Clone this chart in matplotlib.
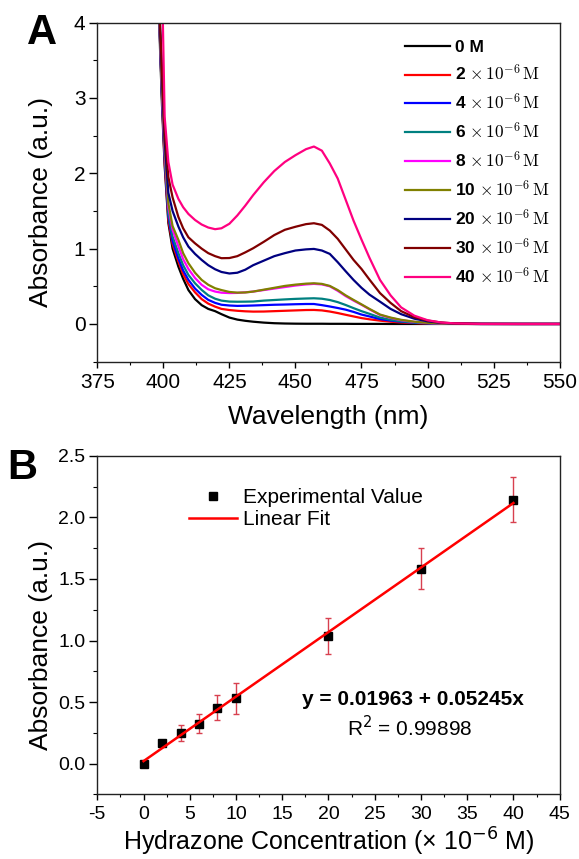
import numpy as np
import matplotlib
matplotlib.use("Agg")
import matplotlib.pyplot as plt
from matplotlib.ticker import MultipleLocator, FormatStrFormatter
from matplotlib.font_manager import FontProperties

plt.rcParams['font.family'] = ['Liberation Sans', 'DejaVu Sans']
plt.rcParams['axes.unicode_minus'] = False

# ---- panel A: absorption spectra ----
wl = [398.0, 398.8, 399.5, 400.5, 401.9, 403.5, 405.7, 407.5, 409.5, 412, 414.5, 417, 419.6, 422,
      425, 428, 431, 434, 438, 442, 446, 450, 454, 457, 460, 463, 466, 469, 472, 475, 478, 482,
      486, 490, 495, 500, 505, 510, 520, 535, 550]

abs_0 = [4.6, 3.6, 2.9, 2.1, 1.34, 1.0, 0.76, 0.6, 0.45, 0.33, 0.25, 0.2, 0.17, 0.13,
         0.085, 0.058, 0.042, 0.03, 0.018, 0.01, 0.006, 0.004, 0.003, 0.003, 0.003, 0.002, 0.002, 0.002, 0.001, 0.001, 0.001, 0.001,
         0.0, 0.0, 0.0, 0.0, 0.0, 0.0, 0.0, 0.0, 0.0]
abs_2 = [4.6, 3.7, 3.0, 2.15, 1.38, 1.06, 0.83, 0.66, 0.53, 0.42, 0.33, 0.27, 0.23, 0.2,
         0.185, 0.175, 0.168, 0.164, 0.165, 0.17, 0.175, 0.18, 0.185, 0.186, 0.18, 0.165, 0.145, 0.122, 0.1, 0.078, 0.062, 0.044,
         0.03, 0.02, 0.012, 0.006, 0.003, 0.001, 0.0, 0.0, 0.0]
abs_4 = [4.6, 3.7, 3.0, 2.2, 1.43, 1.1, 0.87, 0.71, 0.585, 0.47, 0.386, 0.32, 0.28, 0.255,
         0.245, 0.24, 0.242, 0.245, 0.25, 0.255, 0.258, 0.262, 0.265, 0.265, 0.25, 0.232, 0.212, 0.19, 0.16, 0.125, 0.1, 0.065,
         0.045, 0.03, 0.017, 0.009, 0.004, 0.002, 0.0, 0.0, 0.0]
abs_6 = [4.6, 3.75, 3.05, 2.25, 1.47, 1.16, 0.94, 0.78, 0.651, 0.54, 0.452, 0.38, 0.335, 0.31,
         0.297, 0.295, 0.296, 0.298, 0.31, 0.318, 0.326, 0.333, 0.338, 0.341, 0.335, 0.318, 0.29, 0.252, 0.21, 0.17, 0.135, 0.085,
         0.055, 0.035, 0.02, 0.01, 0.005, 0.002, 0.0, 0.0, 0.0]
abs_8 = [4.6, 3.8, 3.1, 2.3, 1.55, 1.25, 1.03, 0.86, 0.73, 0.61, 0.52, 0.46, 0.43, 0.415,
         0.41, 0.412, 0.42, 0.43, 0.45, 0.47, 0.49, 0.51, 0.525, 0.532, 0.525, 0.5, 0.44, 0.37, 0.31, 0.255, 0.195, 0.12,
         0.08, 0.05, 0.028, 0.014, 0.006, 0.003, 0.0, 0.0, 0.0]
abs_10 = [4.6, 3.8, 3.15, 2.35, 1.6, 1.3, 1.116, 0.94, 0.806, 0.68, 0.585, 0.52, 0.474, 0.45,
          0.425, 0.416, 0.418, 0.43, 0.455, 0.48, 0.505, 0.522, 0.535, 0.54, 0.532, 0.505, 0.45, 0.38, 0.319, 0.26, 0.2, 0.125,
          0.085, 0.055, 0.03, 0.015, 0.007, 0.003, 0.0, 0.0, 0.0]
abs_20 = [4.6, 3.9, 3.3, 2.45, 1.74, 1.5, 1.293, 1.15, 1.027, 0.93, 0.85, 0.78, 0.726, 0.69,
          0.67, 0.68, 0.72, 0.78, 0.84, 0.9, 0.94, 0.975, 0.99, 0.996, 0.975, 0.93, 0.82, 0.7, 0.584, 0.48, 0.39, 0.296,
          0.2, 0.13, 0.07, 0.035, 0.015, 0.006, 0.001, 0.0, 0.0]
abs_30 = [4.6, 3.95, 3.35, 2.55, 1.95, 1.68, 1.42, 1.27, 1.15, 1.07, 1.0, 0.94, 0.9, 0.873,
          0.875, 0.9, 0.95, 1.005, 1.09, 1.18, 1.25, 1.29, 1.325, 1.337, 1.315, 1.24, 1.13, 0.99, 0.85, 0.73, 0.59, 0.41,
          0.28, 0.17, 0.09, 0.045, 0.02, 0.008, 0.001, 0.0, 0.0]
abs_40 = [4.6, 4.6, 4.6, 2.75, 2.15, 1.85, 1.66, 1.55, 1.46, 1.38, 1.32, 1.28, 1.258, 1.27,
          1.33, 1.44, 1.57, 1.71, 1.88, 2.03, 2.15, 2.24, 2.32, 2.355, 2.3, 2.13, 1.93, 1.65, 1.37, 1.12, 0.88, 0.585,
          0.38, 0.22, 0.11, 0.05, 0.02, 0.008, 0.001, 0.0, 0.0]

spectra = [abs_0, abs_2, abs_4, abs_6, abs_8, abs_10, abs_20, abs_30, abs_40]
conc_labels = ['0 M', '2', '4', '6', '8', '10', '20', '30', '40']
colors = ['#000000', '#ff0000', '#0000ff', '#008080', '#ff00ff', '#808000', '#000080', '#800000', '#ff0080']

# ---- panel B: calibration ----
conc = [0, 2, 4, 6, 8, 10, 20, 30, 40]
absb = [0.0, 0.165, 0.248, 0.325, 0.455, 0.531, 1.037, 1.585, 2.146]
err = [0.02, 0.02, 0.065, 0.08, 0.105, 0.125, 0.15, 0.17, 0.185]
intercept = 0.01963
slope = 0.05245

fig = plt.figure(figsize=(5.79, 8.59), dpi=100)
axA = fig.add_axes([0.168, 0.579, 0.7986, 0.3947])
axB = fig.add_axes([0.168, 0.0753, 0.7986, 0.3939])

for vals, lab, c in zip(spectra, conc_labels, colors):
    if lab != '0 M':
        lab = lab + r' $\times\,10^{-6}\,\mathrm{M}$'
    axA.plot(wl, vals, color=c, lw=1.6, label=lab)

axA.set_xlim(375, 550)
axA.set_ylim(-0.5, 4)
axA.xaxis.set_major_locator(MultipleLocator(25))
axA.xaxis.set_minor_locator(MultipleLocator(12.5))
axA.yaxis.set_major_locator(MultipleLocator(1))
axA.yaxis.set_minor_locator(MultipleLocator(0.5))
axA.set_xlabel('Wavelength (nm)', fontsize=19, labelpad=9)
axA.set_ylabel('Absorbance (a.u.)', fontsize=19, va='center')
axA.yaxis.set_label_coords(-0.122, 0.47)

legprop = FontProperties(family='Liberation Sans', weight='bold', size=12.5, math_fontfamily='cm')
axA.legend(loc='upper left', bbox_to_anchor=(0.665, 0.95), frameon=False, prop=legprop,
           handlelength=2.6, handletextpad=0.3, labelspacing=0.5, borderpad=0, borderaxespad=0)

axB.errorbar(conc, absb, yerr=err, fmt='none', ecolor='#d8404f', elinewidth=1, capsize=2.5, capthick=1)
axB.plot(conc, absb, 's', color='black', markersize=6, label='Experimental Value')
fitx = np.array([0, 40])
axB.plot(fitx, intercept + slope * fitx, color='#ff0000', lw=1.8, label='Linear Fit')

axB.set_xlim(-5, 45)
axB.set_ylim(-0.25, 2.5)
axB.xaxis.set_major_locator(MultipleLocator(5))
axB.xaxis.set_minor_locator(MultipleLocator(2.5))
axB.yaxis.set_major_locator(MultipleLocator(0.5))
axB.yaxis.set_minor_locator(MultipleLocator(0.25))
axB.yaxis.set_major_formatter(FormatStrFormatter('%.1f'))
axB.set_xlabel(r'Hydrazone Concentration (× 10$^{-6}$ M)', fontsize=18, labelpad=2)
axB.set_ylabel('Absorbance (a.u.)', fontsize=19, va='center')
axB.yaxis.set_label_coords(-0.122, 0.44)
axB.legend(loc='upper left', bbox_to_anchor=(0.198, 0.905), frameon=False, fontsize=15,
           handlelength=2.3, handletextpad=0.3, labelspacing=0.15, borderpad=0, borderaxespad=0)

axB.text(0.682, 0.279, 'y = 0.01963 + 0.05245x', transform=axB.transAxes, ha='center', va='center',
         fontsize=15, fontweight='bold')
axB.text(0.676, 0.196, r'R$^2$ = 0.99898', transform=axB.transAxes, ha='center', va='center', fontsize=15)

for ax in (axA, axB):
    ax.tick_params(axis='both', which='both', direction='out', top=False, right=False)
    ax.tick_params(axis='x', which='major', length=4, width=1, pad=4.5)
    ax.tick_params(axis='x', which='minor', length=2.5, width=0.8)
    ax.tick_params(axis='y', which='major', length=5.5, width=1, pad=3)
    ax.tick_params(axis='y', which='minor', length=3, width=0.8)
    for s in ax.spines.values():
        s.set_linewidth(1)
        s.set_color('#222222')
axA.tick_params(labelsize=15)
axB.tick_params(labelsize=14)

fig.text(0.0717, 0.9616, 'A', fontsize=30, fontweight='bold', ha='center', va='center')
fig.text(0.038, 0.455, 'B', fontsize=30, fontweight='bold', ha='center', va='center')

fig.savefig('out.png', dpi=100)
